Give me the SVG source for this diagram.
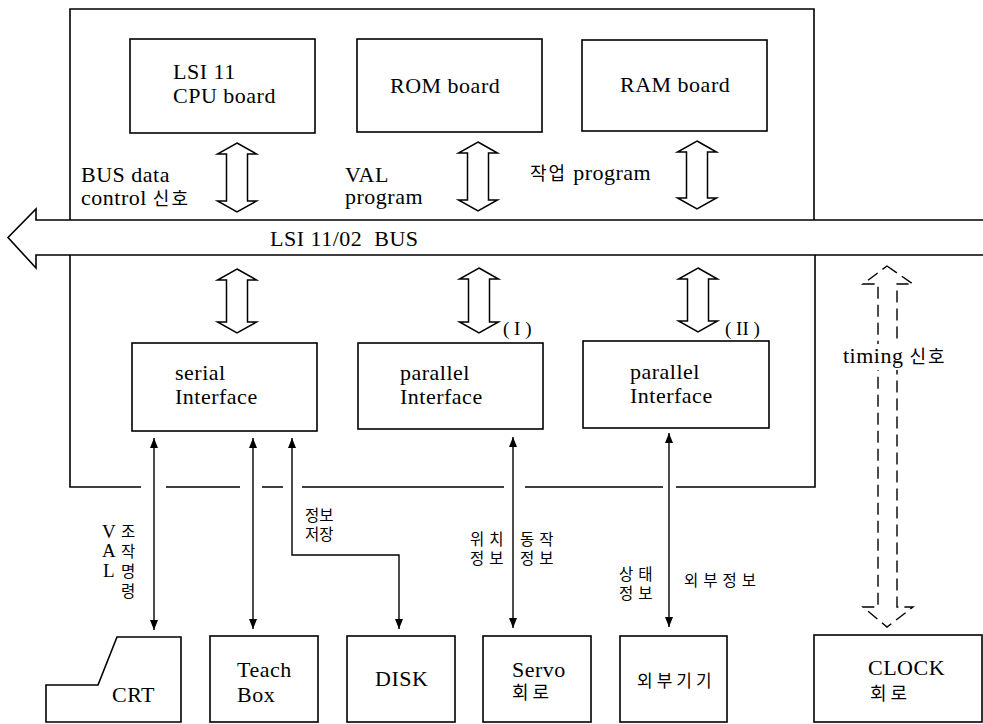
<svg xmlns="http://www.w3.org/2000/svg" width="983" height="724" viewBox="0 0 983 724">
<style>
.bx{fill:#fff;stroke:#000;stroke-width:1.6}
.ln{fill:none;stroke:#000;stroke-width:1.6}
.dbl{fill:#fff;stroke:#000;stroke-width:1.5;stroke-linejoin:miter}
.dash{fill:none;stroke:#000;stroke-width:1.4;stroke-dasharray:12 6}
.con{fill:none;stroke:#000;stroke-width:1.4}
.t{font-family:'Liberation Serif','Times New Roman',serif;font-size:22px;letter-spacing:0.5px;fill:#000}
.kk{font-family:'Noto Sans CJK KR',sans-serif;letter-spacing:2px}
.k{font-family:'Noto Sans CJK KR',sans-serif;font-size:15.5px;letter-spacing:4px;fill:#000}
.s{font-family:'Liberation Serif','Times New Roman',serif;font-size:19px;fill:#000}
</style>
<defs>
<marker id="ah" viewBox="0 0 10 8" refX="10" refY="4" markerWidth="10" markerHeight="8" markerUnits="userSpaceOnUse" orient="auto-start-reverse">
<path d="M0,0 L10,4 L0,8 Z" fill="#000"/>
</marker>
</defs>
<rect width="983" height="724" fill="#fff"/>

<g id="frame">
<path class="ln" d="M70 220 V9 H814 V220"/>
<path class="ln" d="M70 255 V487 H141 M166 487 H240 M262 487 H283 M302 487 H504 M525 487 H663 M676 487 H815 V255"/>
</g>

<g id="bus">
<path class="bx" d="M983 220 H36 V209 L8 237.5 L36 268 V255 H983"/>
<text class="t" x="270" y="246" xml:space="preserve">LSI 11/02  BUS</text>
</g>

<g id="cpu">
<rect class="bx" x="130" y="39" width="185" height="94"/>
<text class="t" x="173" y="79">LSI 11</text>
<text class="t" x="173" y="103">CPU board</text>
</g>
<g id="rom">
<rect class="bx" x="357" y="39" width="185" height="93"/>
<text class="t" x="390" y="93">ROM board</text>
</g>
<g id="ram">
<rect class="bx" x="582" y="40" width="185" height="91"/>
<text class="t" x="620" y="92">RAM board</text>
</g>

<g id="serial">
<rect class="bx" x="132" y="343" width="185" height="88"/>
<text class="t" x="175" y="380">serial</text>
<text class="t" x="175" y="404">Interface</text>
</g>
<g id="parallel1">
<rect class="bx" x="358" y="343" width="185" height="86"/>
<text class="t" x="400" y="380">parallel</text>
<text class="t" x="400" y="404">Interface</text>
<text class="s" x="503" y="335" xml:space="preserve">( I )</text>
</g>
<g id="parallel2">
<rect class="bx" x="583" y="341" width="186" height="87"/>
<text class="t" x="630" y="379">parallel</text>
<text class="t" x="630" y="403">Interface</text>
<text class="s" x="725" y="335" xml:space="preserve">( II )</text>
</g>

<g id="crt">
<path class="bx" d="M46 722 V685 H98 L117 637 H181 V722 Z"/>
<text class="t" x="112" y="702">CRT</text>
</g>
<g id="teach">
<rect class="bx" x="210" y="636" width="108" height="86"/>
<text class="t" x="237" y="677">Teach</text>
<text class="t" x="237" y="702">Box</text>
</g>
<g id="disk">
<rect class="bx" x="347" y="636" width="108" height="86"/>
<text class="t" x="375" y="686">DISK</text>
</g>
<g id="servo">
<rect class="bx" x="483" y="636" width="108" height="86"/>
<text class="t" x="512" y="677">Servo</text>
<text class="k" x="512" y="699" style="font-size:18px">회로</text>
</g>
<g id="ext">
<rect class="bx" x="620" y="636" width="107" height="86"/>
<text class="k" x="637" y="687" style="font-size:17px">외부기기</text>
</g>
<g id="clock">
<rect class="bx" x="814" y="635" width="168" height="87"/>
<text class="t" x="868" y="675">CLOCK</text>
<text class="k" x="870" y="700" style="font-size:18px">회로</text>
</g>

<g id="connectors">
<polygon class="dbl" points="237,143 256.5,154 247.5,154 247.5,201 256.5,201 237,212 217.5,201 226.5,201 226.5,154 217.5,154"/>
<polygon class="dbl" points="478,142 497.5,153 488.5,153 488.5,200 497.5,200 478,211 458.5,200 467.5,200 467.5,153 458.5,153"/>
<polygon class="dbl" points="697,141 716.5,152 707.5,152 707.5,198 716.5,198 697,209 677.5,198 686.5,198 686.5,152 677.5,152"/>
<polygon class="dbl" points="237,269 256.5,280 247.5,280 247.5,322 256.5,322 237,333 217.5,322 226.5,322 226.5,280 217.5,280"/>
<polygon class="dbl" points="479,268 498.5,279 489.5,279 489.5,322 498.5,322 479,333 459.5,322 468.5,322 468.5,279 459.5,279"/>
<polygon class="dbl" points="698,268 717.5,279 708.5,279 708.5,321 717.5,321 698,332 678.5,321 687.5,321 687.5,279 678.5,279"/>
<path class="dash" d="M887 266 L913 284 H897 V607 H913 L887 627 L863 607 H878 V284 H863 Z"/>
<path class="con" d="M154 438 V630" marker-start="url(#ah)" marker-end="url(#ah)"/>
<path class="con" d="M253 438 V629" marker-start="url(#ah)" marker-end="url(#ah)"/>
<path class="con" d="M292 438 V555 H399 V629" marker-start="url(#ah)" marker-end="url(#ah)"/>
<path class="con" d="M513 437 V628" marker-start="url(#ah)" marker-end="url(#ah)"/>
<path class="con" d="M669 433 V627" marker-start="url(#ah)" marker-end="url(#ah)"/>
</g>

<g id="labels">
<text class="t" x="81" y="182">BUS data</text>
<text class="t" x="81" y="205">control <tspan class="kk" style="font-size:18px">신호</tspan></text>
<text class="t" x="345" y="182">VAL</text>
<text class="t" x="345" y="204">program</text>
<text class="t" x="530" y="180"><tspan class="kk" style="font-size:18px">작업</tspan> program</text>
<rect x="840" y="344" width="115" height="26" fill="#fff"/>
<text class="t" x="843" y="363">timing <tspan class="kk" style="font-size:18px">신호</tspan></text>
<text class="t" x="102" y="538" style="font-size:19px">V</text>
<text class="t" x="102" y="557" style="font-size:19px">A</text>
<text class="t" x="103" y="577" style="font-size:19px">L</text>
<text class="k" x="121" y="537">조</text>
<text class="k" x="121" y="557">작</text>
<text class="k" x="121" y="577">명</text>
<text class="k" x="121" y="597">령</text>
<text class="k" x="305" y="521" style="letter-spacing:0">정보</text>
<text class="k" x="305" y="540" style="letter-spacing:0">저장</text>
<text class="k" x="470" y="545" style="letter-spacing:5px">위치</text>
<text class="k" x="470" y="564" style="letter-spacing:5px">정보</text>
<text class="k" x="520" y="545" style="letter-spacing:5px">동작</text>
<text class="k" x="520" y="564" style="letter-spacing:5px">정보</text>
<text class="k" x="619" y="580" style="letter-spacing:5px">상태</text>
<text class="k" x="619" y="599" style="letter-spacing:5px">정보</text>
<text class="k" x="684" y="586" style="letter-spacing:5px">외부정보</text>
</g>
</svg>
